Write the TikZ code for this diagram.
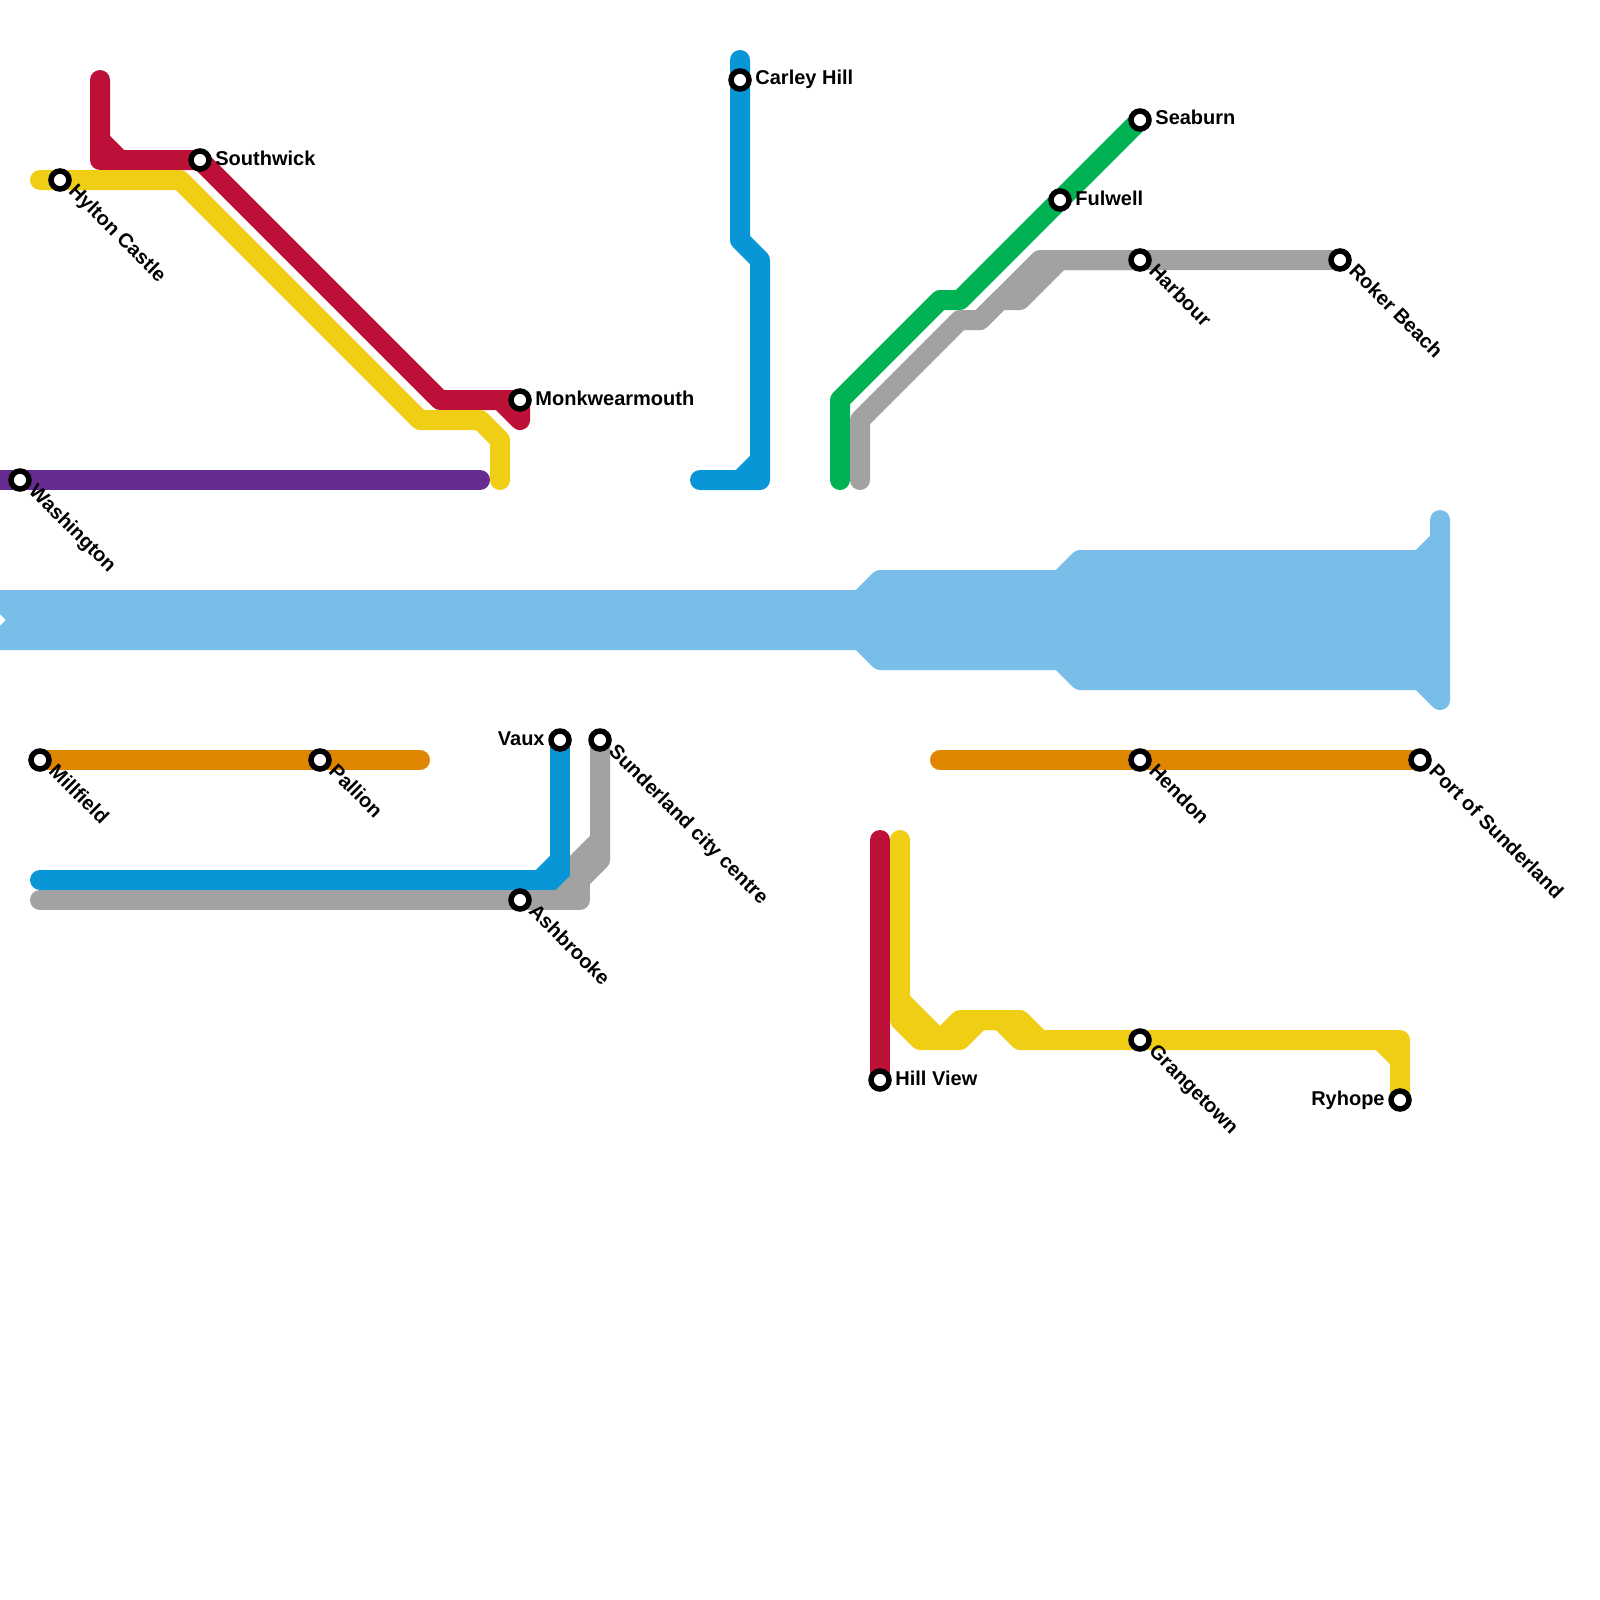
\documentclass[tikz,border=0pt]{standalone}
\usepackage{fontspec}
\setmainfont{Liberation Sans}
\definecolor{lnred}{HTML}{BD1038}
\definecolor{lnyellow}{HTML}{F0CE15}
\definecolor{lnpurple}{HTML}{662C90}
\definecolor{lnblue}{HTML}{0896D7}
\definecolor{lngreen}{HTML}{00B251}
\definecolor{lngrey}{HTML}{A2A2A2}
\definecolor{lnorange}{HTML}{DF8600}
\definecolor{lnsky}{HTML}{79BDE9}
\tikzset{
  metro/.style={line width=10pt,line cap=round,line join=round},
  stn/.style={circle,draw=black,fill=white,line width=2.75pt,minimum size=9pt,inner sep=0pt},
  lbl/.style={font=\bfseries\fontsize{10pt}{11pt}\selectfont,inner sep=0pt,text=black},
  lblr/.style={lbl,anchor=base west,xshift=7.5pt,yshift=-2.5pt},
  lbll/.style={lbl,anchor=base east,xshift=-7.5pt,yshift=-2.5pt},
  lbld/.style={lbl,anchor=base west,rotate=-45,xshift=7.1pt,yshift=-1.65pt}
}
\begin{document}
\begin{tikzpicture}[x=0.5pt,y=-0.5pt]
\useasboundingbox (0,0) rectangle (1600,1600);
\clip (0,0) rectangle (1600,1600);
% station positions
\coordinate (pCarley) at (740,80);
\coordinate (pSeaburn) at (1140,120);
\coordinate (pFulwell) at (1060,200);
\coordinate (pHarbour) at (1140,260);
\coordinate (pRoker) at (1340,260);
\coordinate (pSouthwick) at (200,160);
\coordinate (pHylton) at (60,180);
\coordinate (pMonk) at (520,400);
\coordinate (pWash) at (20,480);
\coordinate (pMill) at (40,760);
\coordinate (pPall) at (320,760);
\coordinate (pVaux) at (560,740);
\coordinate (pSund) at (600,740);
\coordinate (pAsh) at (520,900);
\coordinate (pHend) at (1140,760);
\coordinate (pPort) at (1420,760);
\coordinate (pHill) at (880,1080);
\coordinate (pGrange) at (1140,1040);
\coordinate (pRyhope) at (1400,1100);
% river band
\draw[lnsky,fill=lnsky,metro] (0,600) -- (860,600) -- (880,580) -- (1060,580) -- (1080,560) -- (1420,560) -- (1440,540) -- (1440,520) -- (1440,700) -- (1420,680) -- (1080,680) -- (1060,660) -- (880,660) -- (860,640) -- (0,640) -- (20,620) -- cycle;
% red
\draw[lnred,metro] (100,80) -- (100,160) -- (pSouthwick) -- (440,400) -- (pMonk) -- (520,420) -- (500,400);
\draw[lnred,metro] (100,140) -- (120,160);
% yellow
\draw[lnyellow,metro] (40,180) -- (pHylton) -- (180,180) -- (420,420) -- (480,420) -- (500,440) -- (500,480);
% purple
\draw[lnpurple,metro] (-20,480) -- (pWash) -- (480,480);
% blue upper
\draw[lnblue,metro] (700,480) -- (760,480) -- (760,260) -- (740,240) -- (pCarley) -- (740,60);
\draw[lnblue,metro] (740,480) -- (760,460);
% green
\draw[lngreen,metro] (840,480) -- (840,400) -- (940,300) -- (960,300) -- (pFulwell) -- (pSeaburn);
% grey upper
\draw[lngrey,metro] (860,480) -- (860,420) -- (960,320) -- (980,320) -- (1040,260) -- (pHarbour) -- (pRoker);
\draw[lngrey,metro] (980,320) -- (1000,300) -- (1020,300) -- (1060,260) -- (pHarbour);
% grey under blue
\draw[lngrey,metro] (600,840) -- (560,880);
% orange
\draw[lnorange,metro] (pMill) -- (pPall) -- (420,760);
\draw[lnorange,metro] (940,760) -- (pHend) -- (pPort);
% blue lower
\draw[lnblue,metro] (40,880) -- (560,880) -- (pVaux);
\draw[lnblue,metro] (540,880) -- (560,860);
% grey lower
\draw[lngrey,metro] (40,900) -- (pAsh) -- (580,900) -- (580,880);
\draw[lngrey,metro] (pSund) -- (600,860) -- (560,900);
% red lower
\draw[lnred,metro] (880,840) -- (pHill);
% yellow lower
\draw[lnyellow,metro] (900,840) -- (900,1020) -- (920,1040) -- (960,1040) -- (980,1020) -- (1000,1020) -- (1020,1040) -- (pGrange) -- (1400,1040) -- (pRyhope);
\draw[lnyellow,metro] (900,1000) -- (940,1040) -- (960,1020) -- (1020,1020) -- (1040,1040);
\draw[lnyellow,metro] (1380,1040) -- (1400,1060);
% stations
\node[stn] (sCarley) at (pCarley) {};
\node[stn] (sSeaburn) at (pSeaburn) {};
\node[stn] (sFulwell) at (pFulwell) {};
\node[stn] (sHarbour) at (pHarbour) {};
\node[stn] (sRoker) at (pRoker) {};
\node[stn] (sSouthwick) at (pSouthwick) {};
\node[stn] (sHylton) at (pHylton) {};
\node[stn] (sMonk) at (pMonk) {};
\node[stn] (sWash) at (pWash) {};
\node[stn] (sMill) at (pMill) {};
\node[stn] (sPall) at (pPall) {};
\node[stn] (sVaux) at (pVaux) {};
\node[stn] (sSund) at (pSund) {};
\node[stn] (sAsh) at (pAsh) {};
\node[stn] (sHend) at (pHend) {};
\node[stn] (sPort) at (pPort) {};
\node[stn] (sHill) at (pHill) {};
\node[stn] (sGrange) at (pGrange) {};
\node[stn] (sRyhope) at (pRyhope) {};
% labels
\node[lblr] (tCarley) at (pCarley) {Carley Hill};
\node[lblr] (tSeaburn) at (pSeaburn) {Seaburn};
\node[lblr] (tFulwell) at (pFulwell) {Fulwell};
\node[lblr] (tSouthwick) at (pSouthwick) {Southwick};
\node[lblr] (tMonk) at (pMonk) {Monkwearmouth};
\node[lblr] (tHill) at (pHill) {Hill View};
\node[lbll] (tVaux) at (pVaux) {Vaux};
\node[lbll] (tRyhope) at (pRyhope) {Ryhope};
\node[lbld] (tHarbour) at (pHarbour) {Harbour};
\node[lbld] (tRoker) at (pRoker) {Roker Beach};
\node[lbld] (tHylton) at (pHylton) {Hylton Castle};
\node[lbld] (tWash) at (pWash) {Washington};
\node[lbld] (tMill) at (pMill) {Millfield};
\node[lbld] (tPall) at (pPall) {Pallion};
\node[lbld] (tSund) at (pSund) {Sunderland city centre};
\node[lbld] (tAsh) at (pAsh) {Ashbrooke};
\node[lbld] (tHend) at (pHend) {Hendon};
\node[lbld] (tPort) at (pPort) {Port of Sunderland};
\node[lbld] (tGrange) at (pGrange) {Grangetown};
\end{tikzpicture}
\end{document}
